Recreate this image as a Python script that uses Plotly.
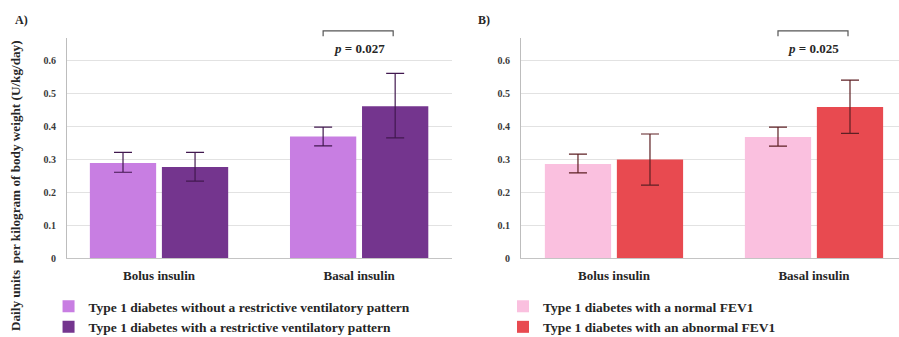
import plotly.graph_objects as go

# Insulin dose by group (U/kg/day): mean and 95% CI bounds
categories = ["Bolus insulin", "Basal insulin"]

a_names = ["Type 1 diabetes without a restrictive ventilatory pattern",
           "Type 1 diabetes with a restrictive ventilatory pattern"]
a_means = [[0.288, 0.368], [0.276, 0.460]]
a_upper = [[0.320, 0.397], [0.320, 0.560]]
a_lower = [[0.260, 0.340], [0.233, 0.364]]
a_colors = ["#c87ee2", "#74358e"]
a_p_text = "<i>p</i> = 0.027"

b_names = ["Type 1 diabetes with a normal FEV1",
           "Type 1 diabetes with an abnormal FEV1"]
b_means = [[0.285, 0.367], [0.299, 0.458]]
b_upper = [[0.315, 0.397], [0.376, 0.539]]
b_lower = [[0.258, 0.339], [0.221, 0.378]]
b_colors = ["#fac0df", "#e84a50"]
b_p_text = "<i>p</i> = 0.025"

y_ticks = [0, 0.1, 0.2, 0.3, 0.4, 0.5, 0.6]
y_tick_text = ["0", "0.1", "0.2", "0.3", "0.4", "0.5", "0.6"]

SERIF = "Liberation Serif, Times New Roman, serif"
TXT = "#262626"

fig = go.Figure()


def add_panel(names, means, upper, lower, colors, err_color, xa, ya, legend):
    for i in range(2):
        fig.add_trace(go.Bar(
            x=categories, y=means[i], name=names[i],
            marker=dict(color=colors[i], line=dict(width=0)),
            error_y=dict(type="data", symmetric=False,
                         array=[u - m for u, m in zip(upper[i], means[i])],
                         arrayminus=[m - l for m, l in zip(means[i], lower[i])],
                         color=err_color, thickness=1.2, width=9),
            xaxis=xa, yaxis=ya, legend=legend, legendgroup=f"{legend}{i}",
        ))


add_panel(a_names, a_means, a_upper, a_lower, a_colors, "#41184f", "x", "y", "legend")
add_panel(b_names, b_means, b_upper, b_lower, b_colors, "#5e2024", "x2", "y2", "legend2")

axis_common = dict(showgrid=False, showline=True, linecolor="#c4c4c4", linewidth=1,
                   ticks="", tickfont=dict(family=SERIF, size=13, color=TXT, weight="bold"),
                   fixedrange=True, zeroline=False, ticklabelstandoff=5)
yaxis_common = dict(range=[0, 0.667], tickvals=y_ticks, ticktext=y_tick_text,
                    showgrid=True, gridcolor="#e2e2e2", gridwidth=1,
                    showline=True, linecolor="#bdbdbd", linewidth=1, ticks="",
                    tickfont=dict(family=SERIF, size=10, color="#3a3a3a", weight="bold"),
                    zeroline=False, ticklabelstandoff=8, fixedrange=True)

legend_common = dict(font=dict(family=SERIF, size=13.5, color=TXT, weight="bold"),
                     bgcolor="rgba(0,0,0,0)", yref="container", yanchor="top",
                     y=1 - 291 / 337, xanchor="left", traceorder="grouped",
                     tracegroupgap=0, itemclick=False, itemdoubleclick=False)

fig.update_layout(
    width=899, height=337,
    margin=dict(l=0, r=0, t=38, b=79, autoexpand=False),
    paper_bgcolor="white", plot_bgcolor="white",
    barmode="group", bargap=0.28, bargroupgap=0.08,
    showlegend=True,
    xaxis=dict(domain=[0.0745, 0.503], range=[-0.46, 1.465], anchor="y", **axis_common),
    yaxis=dict(domain=[0, 1], anchor="x", **yaxis_common),
    xaxis2=dict(domain=[0.5795, 1.0], range=[-0.465, 1.425], anchor="y2", **axis_common),
    yaxis2=dict(domain=[0, 1], anchor="x2", **yaxis_common),
    legend=dict(x=0.054, **legend_common),
    legend2=dict(x=0.5595, **legend_common),
)

# Significance brackets over the basal insulin bars
for xr, ptxt in (("x", a_p_text), ("x2", b_p_text)):
    x0, x1 = 1 - 0.18, 1 + 0.17
    fig.add_shape(type="path", xref=xr, yref="paper",
                  path=f"M {x0},1.008 L {x0},1.032 L {x1},1.032 L {x1},1.008",
                  line=dict(color="#555555", width=1.2))
    fig.add_annotation(x=1, y=0.636, xref=xr, yref="y" if xr == "x" else "y2",
                       text=f"<b>{ptxt}</b>", showarrow=False,
                       font=dict(family=SERIF, size=13, color=TXT),
                       xanchor="center", yanchor="middle")

# Panel letters
fig.add_annotation(x=13 / 899, y=1.08, xref="paper", yref="paper", text="<b>A)</b>",
                   showarrow=False, xanchor="left", yanchor="middle",
                   font=dict(family=SERIF, size=12, color=TXT))
fig.add_annotation(x=476 / 899, y=1.08, xref="paper", yref="paper", text="<b>B)</b>",
                   showarrow=False, xanchor="left", yanchor="middle",
                   font=dict(family=SERIF, size=12, color=TXT))

# Shared y-axis title, running down the left edge of the page
fig.add_annotation(x=15 / 899, y=0.327, xref="paper", yref="paper",
                   text="<b>Daily units  per kilogram of body weight (U/kg/day)</b>",
                   textangle=-90, showarrow=False, xanchor="center", yanchor="middle",
                   font=dict(family=SERIF, size=13.2, color=TXT))

fig.write_html("out.html")
